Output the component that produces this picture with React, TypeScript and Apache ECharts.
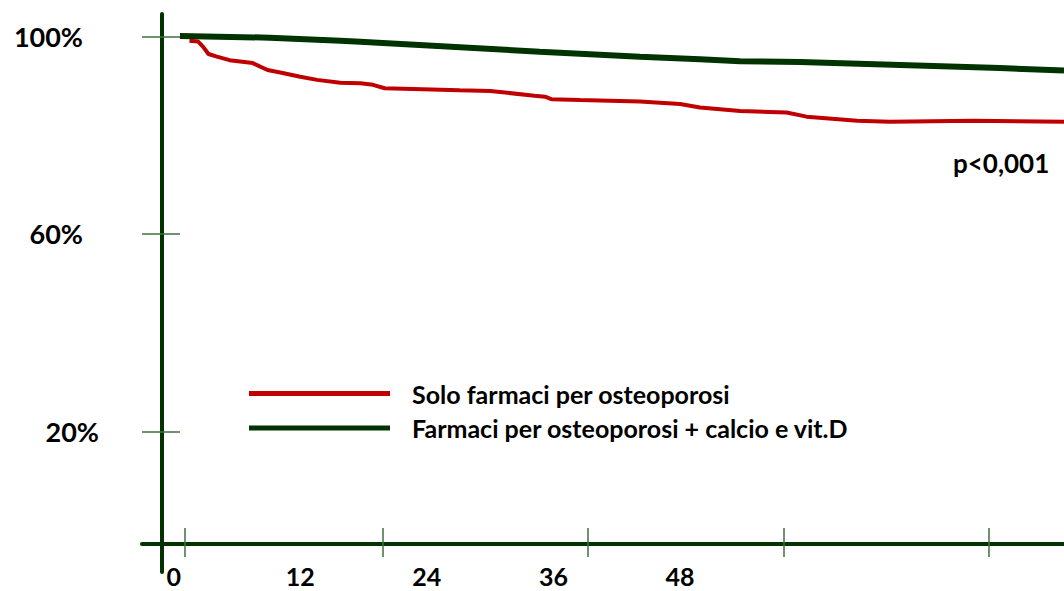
import React, { useEffect, useRef } from "react";
import * as echarts from "echarts";

// Survival curves (months, % persistence)
const redMonths = [1.5, 2.3, 2.8, 3.3, 4.1, 5.3, 7.5, 8.9, 10.1, 12.0, 13.6, 15.8, 17.7, 18.9, 20.0, 27.1, 30.0, 34.2, 35.2, 35.8, 38.5, 44.2, 48.0, 49.9, 53.7, 58.1, 60.0, 64.8, 67.9, 75.8, 84.4];
const redValues = [99.15, 99.0, 97.9, 96.45, 95.9, 95.2, 94.6, 93.2, 92.7, 91.85, 91.2, 90.6, 90.5, 90.2, 89.5, 89.1, 88.95, 88.0, 87.8, 87.3, 87.1, 86.8, 86.3, 85.6, 84.9, 84.6, 83.75, 82.9, 82.7, 82.9, 82.7];

const greenMonths = [0.6, 9.1, 15.8, 17.7, 34.7, 44.2, 49.9, 53.7, 59.4, 68.9, 78.3, 84.4];
const greenValues = [100.1, 99.76, 99.15, 98.95, 96.9, 95.9, 95.4, 95.0, 94.8, 94.2, 93.6, 93.1];

const seriesNames = ["Solo farmaci per osteoporosi", "Farmaci per osteoporosi + calcio e vit.D"];
const xLabelValues = [0, 12, 24, 36, 48];
const xTickValues = [1.05, 19.85, 39.28, 57.86, 77.3];
const yTickValues = [20, 60, 100];
const yLabelsMain = [60, 100];
const yLabelsShifted = [20];
const pValueText = "p<0,001";

const AXIS_GREEN = "#003300";
const TICK_GREEN = "#3f6e3f";
const RED = "#c00000";
const FONT = "Lato";

export default function App() {
  const ref = useRef<HTMLDivElement>(null);

  useEffect(() => {
    document.body.style.margin = "0";
    if (!ref.current) return;
    const chart = echarts.init(ref.current, null, { renderer: "svg" });

    const xMin = -3;
    const xMax = 84.4;
    const yMin = -8.52;
    const yMax = 104.55;

    const baseX = {
      type: "value",
      min: xMin,
      max: xMax,
      position: "bottom",
      offset: -28,
      splitLine: { show: false },
    };
    const baseY = {
      type: "value",
      min: yMin,
      max: yMax,
      position: "left",
      offset: -20,
      splitLine: { show: false },
    };

    chart.setOption({
      animation: false,
      backgroundColor: "#ffffff",
      grid: { left: 142, right: 0, top: 14, bottom: 19 },
      xAxis: [
        {
          ...baseX,
          axisLine: { show: true, onZero: false, lineStyle: { color: AXIS_GREEN, width: 4 } },
          axisTick: { show: true, inside: false, length: 13, customValues: xTickValues, lineStyle: { color: TICK_GREEN, width: 1.5 } },
          axisLabel: {
            show: true,
            customValues: xLabelValues,
            margin: 21,
            lineHeight: 22,
            color: "#000",
            fontFamily: FONT,
            fontWeight: "bold",
            fontSize: 25,
          },
        },
        {
          ...baseX,
          axisLine: { show: false, onZero: false },
          axisTick: { show: true, inside: true, length: 16, customValues: xTickValues, lineStyle: { color: TICK_GREEN, width: 1.5 } },
          axisLabel: { show: false },
        },
      ],
      yAxis: [
        {
          ...baseY,
          axisLine: { show: true, onZero: false, lineStyle: { color: AXIS_GREEN, width: 4 } },
          axisTick: { show: true, inside: false, length: 20, customValues: yTickValues, lineStyle: { color: TICK_GREEN, width: 1.5 } },
          axisLabel: {
            show: true,
            customValues: yLabelsMain,
            formatter: (v: number) => v + "%",
            margin: 79,
            color: "#000",
            fontFamily: FONT,
            fontWeight: "bold",
            fontSize: 27,
          },
        },
        {
          ...baseY,
          axisLine: { show: false, onZero: false },
          axisTick: { show: true, inside: true, length: 18, customValues: yTickValues, lineStyle: { color: TICK_GREEN, width: 1.5 } },
          axisLabel: {
            show: true,
            customValues: yLabelsShifted,
            formatter: (v: number) => v + "%",
            margin: 63,
            color: "#000",
            fontFamily: FONT,
            fontWeight: "bold",
            fontSize: 27,
          },
        },
      ],
      legend: {
        orient: "vertical",
        left: 249,
        top: 381,
        padding: 0,
        icon: "rect",
        itemWidth: 141,
        itemHeight: 5,
        itemGap: 9.5,
        textStyle: {
          color: "#000",
          fontFamily: FONT,
          fontWeight: "bold",
          fontSize: 25,
          lineHeight: 22,
          padding: [0, 0, 0, 17],
        },
        data: seriesNames,
      },
      graphic: [
        {
          type: "text",
          left: 953,
          top: 150,
          style: {
            text: pValueText,
            fill: "#000",
            font: `bold 26px ${FONT}`,
          },
        },
      ],
      series: [
        {
          name: seriesNames[0],
          type: "line",
          xAxisIndex: 0,
          yAxisIndex: 0,
          data: redMonths.map((m, i) => [m, redValues[i]]),
          showSymbol: false,
          color: RED,
          lineStyle: { color: RED, width: 4 },
          z: 3,
        },
        {
          name: seriesNames[1],
          type: "line",
          xAxisIndex: 0,
          yAxisIndex: 0,
          data: greenMonths.map((m, i) => [m, greenValues[i]]),
          showSymbol: false,
          color: AXIS_GREEN,
          lineStyle: { color: AXIS_GREEN, width: 6, cap: "butt" },
          z: 4,
        },
      ],
    });

    return () => chart.dispose();
  }, []);

  return <div ref={ref} style={{ width: 1064, height: 591 }} />;
}
